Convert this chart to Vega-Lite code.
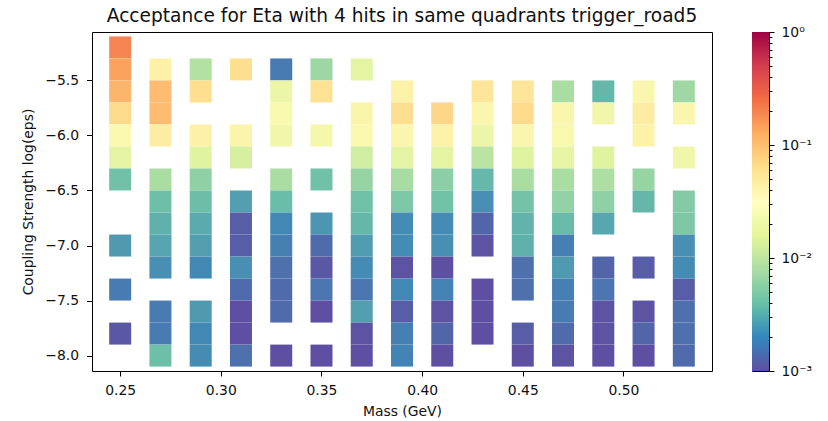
{
  "$schema": "https://vega.github.io/schema/vega-lite/v6.json",
  "autosize": {"type": "pad"},
  "padding": {"left": 21, "top": 6, "right": 5, "bottom": 5},
  "background": "white",
  "bounds": "flush",
  "spacing": 40,
  "config": {
    "font": "DejaVu Sans",
    "view": {"stroke": "#000", "strokeWidth": 1},
    "axis": {
      "grid": false,
      "domain": false,
      "tickColor": "#000",
      "tickWidth": 1,
      "labelFont": "DejaVu Sans",
      "labelFontSize": 13.9,
      "labelColor": "#111",
      "titleFont": "DejaVu Sans",
      "titleFontSize": 13.9,
      "titleFontWeight": "normal",
      "titleColor": "#111"
    }
  },
  "hconcat": [
    {
      "width": 620,
      "height": 339,
      "title": {
        "text": "Acceptance for Eta with 4 hits in same quadrants trigger_road5",
        "anchor": "middle",
        "frame": "group",
        "baseline": "alphabetic",
        "offset": -9,
        "font": "DejaVu Sans",
        "fontSize": 18.6,
        "fontWeight": "normal",
        "color": "#111"
      },
      "data": {
        "values": [
          {"mass": 0.25, "logeps": -5.2, "acc": 0.2},
          {"mass": 0.25, "logeps": -5.4, "acc": 0.14},
          {"mass": 0.25, "logeps": -5.6, "acc": 0.11},
          {"mass": 0.25, "logeps": -5.8, "acc": 0.065},
          {"mass": 0.25, "logeps": -6.0, "acc": 0.032},
          {"mass": 0.25, "logeps": -6.2, "acc": 0.018},
          {"mass": 0.25, "logeps": -6.4, "acc": 0.0043},
          {"mass": 0.25, "logeps": -7.0, "acc": 0.0025},
          {"mass": 0.25, "logeps": -7.4, "acc": 0.0017},
          {"mass": 0.25, "logeps": -7.8, "acc": 0.0011},

          {"mass": 0.27, "logeps": -5.4, "acc": 0.038},
          {"mass": 0.27, "logeps": -5.6, "acc": 0.1},
          {"mass": 0.27, "logeps": -5.8, "acc": 0.1},
          {"mass": 0.27, "logeps": -6.0, "acc": 0.042},
          {"mass": 0.27, "logeps": -6.4, "acc": 0.008},
          {"mass": 0.27, "logeps": -6.6, "acc": 0.0042},
          {"mass": 0.27, "logeps": -6.8, "acc": 0.0034},
          {"mass": 0.27, "logeps": -7.0, "acc": 0.0029},
          {"mass": 0.27, "logeps": -7.2, "acc": 0.0022},
          {"mass": 0.27, "logeps": -7.6, "acc": 0.0017},
          {"mass": 0.27, "logeps": -7.8, "acc": 0.0017},
          {"mass": 0.27, "logeps": -8.0, "acc": 0.0042},

          {"mass": 0.29, "logeps": -5.4, "acc": 0.009},
          {"mass": 0.29, "logeps": -5.6, "acc": 0.06},
          {"mass": 0.29, "logeps": -6.0, "acc": 0.038},
          {"mass": 0.29, "logeps": -6.2, "acc": 0.016},
          {"mass": 0.29, "logeps": -6.4, "acc": 0.006},
          {"mass": 0.29, "logeps": -6.6, "acc": 0.0041},
          {"mass": 0.29, "logeps": -6.8, "acc": 0.0031},
          {"mass": 0.29, "logeps": -7.0, "acc": 0.0027},
          {"mass": 0.29, "logeps": -7.2, "acc": 0.002},
          {"mass": 0.29, "logeps": -7.6, "acc": 0.0025},
          {"mass": 0.29, "logeps": -7.8, "acc": 0.002},
          {"mass": 0.29, "logeps": -8.0, "acc": 0.0021},

          {"mass": 0.31, "logeps": -5.4, "acc": 0.06},
          {"mass": 0.31, "logeps": -6.0, "acc": 0.035},
          {"mass": 0.31, "logeps": -6.2, "acc": 0.014},
          {"mass": 0.31, "logeps": -6.6, "acc": 0.0027},
          {"mass": 0.31, "logeps": -6.8, "acc": 0.0012},
          {"mass": 0.31, "logeps": -7.0, "acc": 0.0012},
          {"mass": 0.31, "logeps": -7.2, "acc": 0.0022},
          {"mass": 0.31, "logeps": -7.4, "acc": 0.0014},
          {"mass": 0.31, "logeps": -7.6, "acc": 0.001},
          {"mass": 0.31, "logeps": -7.8, "acc": 0.001},
          {"mass": 0.31, "logeps": -8.0, "acc": 0.0015},

          {"mass": 0.33, "logeps": -5.4, "acc": 0.0017},
          {"mass": 0.33, "logeps": -5.6, "acc": 0.022},
          {"mass": 0.33, "logeps": -5.8, "acc": 0.03},
          {"mass": 0.33, "logeps": -6.0, "acc": 0.025},
          {"mass": 0.33, "logeps": -6.4, "acc": 0.008},
          {"mass": 0.33, "logeps": -6.6, "acc": 0.004},
          {"mass": 0.33, "logeps": -6.8, "acc": 0.002},
          {"mass": 0.33, "logeps": -7.0, "acc": 0.0018},
          {"mass": 0.33, "logeps": -7.2, "acc": 0.0015},
          {"mass": 0.33, "logeps": -7.4, "acc": 0.0014},
          {"mass": 0.33, "logeps": -7.6, "acc": 0.0014},
          {"mass": 0.33, "logeps": -8.0, "acc": 0.001},

          {"mass": 0.35, "logeps": -5.4, "acc": 0.007},
          {"mass": 0.35, "logeps": -5.6, "acc": 0.055},
          {"mass": 0.35, "logeps": -6.0, "acc": 0.027},
          {"mass": 0.35, "logeps": -6.4, "acc": 0.0043},
          {"mass": 0.35, "logeps": -6.8, "acc": 0.0024},
          {"mass": 0.35, "logeps": -7.0, "acc": 0.0014},
          {"mass": 0.35, "logeps": -7.2, "acc": 0.0011},
          {"mass": 0.35, "logeps": -7.4, "acc": 0.0016},
          {"mass": 0.35, "logeps": -7.6, "acc": 0.001},
          {"mass": 0.35, "logeps": -8.0, "acc": 0.001},

          {"mass": 0.37, "logeps": -5.4, "acc": 0.017},
          {"mass": 0.37, "logeps": -5.8, "acc": 0.035},
          {"mass": 0.37, "logeps": -6.0, "acc": 0.032},
          {"mass": 0.37, "logeps": -6.2, "acc": 0.013},
          {"mass": 0.37, "logeps": -6.4, "acc": 0.0065},
          {"mass": 0.37, "logeps": -6.6, "acc": 0.0043},
          {"mass": 0.37, "logeps": -6.8, "acc": 0.0037},
          {"mass": 0.37, "logeps": -7.0, "acc": 0.0026},
          {"mass": 0.37, "logeps": -7.2, "acc": 0.0021},
          {"mass": 0.37, "logeps": -7.4, "acc": 0.0016},
          {"mass": 0.37, "logeps": -7.6, "acc": 0.0027},
          {"mass": 0.37, "logeps": -7.8, "acc": 0.00105},
          {"mass": 0.37, "logeps": -8.0, "acc": 0.001},

          {"mass": 0.39, "logeps": -5.6, "acc": 0.037},
          {"mass": 0.39, "logeps": -5.8, "acc": 0.06},
          {"mass": 0.39, "logeps": -6.0, "acc": 0.033},
          {"mass": 0.39, "logeps": -6.2, "acc": 0.018},
          {"mass": 0.39, "logeps": -6.4, "acc": 0.0078},
          {"mass": 0.39, "logeps": -6.6, "acc": 0.005},
          {"mass": 0.39, "logeps": -6.8, "acc": 0.0021},
          {"mass": 0.39, "logeps": -7.0, "acc": 0.0021},
          {"mass": 0.39, "logeps": -7.2, "acc": 0.00105},
          {"mass": 0.39, "logeps": -7.4, "acc": 0.002},
          {"mass": 0.39, "logeps": -7.6, "acc": 0.0012},
          {"mass": 0.39, "logeps": -7.8, "acc": 0.0018},
          {"mass": 0.39, "logeps": -8.0, "acc": 0.0019},

          {"mass": 0.41, "logeps": -5.8, "acc": 0.07},
          {"mass": 0.41, "logeps": -6.0, "acc": 0.036},
          {"mass": 0.41, "logeps": -6.2, "acc": 0.017},
          {"mass": 0.41, "logeps": -6.4, "acc": 0.0058},
          {"mass": 0.41, "logeps": -6.6, "acc": 0.0044},
          {"mass": 0.41, "logeps": -6.8, "acc": 0.0021},
          {"mass": 0.41, "logeps": -7.0, "acc": 0.0022},
          {"mass": 0.41, "logeps": -7.2, "acc": 0.001},
          {"mass": 0.41, "logeps": -7.4, "acc": 0.0019},
          {"mass": 0.41, "logeps": -7.6, "acc": 0.00105},
          {"mass": 0.41, "logeps": -7.8, "acc": 0.0013},
          {"mass": 0.41, "logeps": -8.0, "acc": 0.001},

          {"mass": 0.43, "logeps": -5.6, "acc": 0.05},
          {"mass": 0.43, "logeps": -5.8, "acc": 0.033},
          {"mass": 0.43, "logeps": -6.0, "acc": 0.022},
          {"mass": 0.43, "logeps": -6.2, "acc": 0.01},
          {"mass": 0.43, "logeps": -6.4, "acc": 0.0038},
          {"mass": 0.43, "logeps": -6.6, "acc": 0.0022},
          {"mass": 0.43, "logeps": -6.8, "acc": 0.0013},
          {"mass": 0.43, "logeps": -7.0, "acc": 0.00105},
          {"mass": 0.43, "logeps": -7.4, "acc": 0.001},
          {"mass": 0.43, "logeps": -7.6, "acc": 0.001},
          {"mass": 0.43, "logeps": -7.8, "acc": 0.001},

          {"mass": 0.45, "logeps": -5.6, "acc": 0.05},
          {"mass": 0.45, "logeps": -5.8, "acc": 0.065},
          {"mass": 0.45, "logeps": -6.0, "acc": 0.033},
          {"mass": 0.45, "logeps": -6.2, "acc": 0.016},
          {"mass": 0.45, "logeps": -6.4, "acc": 0.008},
          {"mass": 0.45, "logeps": -6.6, "acc": 0.0045},
          {"mass": 0.45, "logeps": -6.8, "acc": 0.0035},
          {"mass": 0.45, "logeps": -7.0, "acc": 0.0034},
          {"mass": 0.45, "logeps": -7.2, "acc": 0.0015},
          {"mass": 0.45, "logeps": -7.4, "acc": 0.0015},
          {"mass": 0.45, "logeps": -7.8, "acc": 0.0012},
          {"mass": 0.45, "logeps": -8.0, "acc": 0.001},

          {"mass": 0.47, "logeps": -5.6, "acc": 0.008},
          {"mass": 0.47, "logeps": -5.8, "acc": 0.033},
          {"mass": 0.47, "logeps": -6.0, "acc": 0.03},
          {"mass": 0.47, "logeps": -6.2, "acc": 0.02},
          {"mass": 0.47, "logeps": -6.4, "acc": 0.008},
          {"mass": 0.47, "logeps": -6.6, "acc": 0.0062},
          {"mass": 0.47, "logeps": -6.8, "acc": 0.0039},
          {"mass": 0.47, "logeps": -7.0, "acc": 0.0018},
          {"mass": 0.47, "logeps": -7.2, "acc": 0.0025},
          {"mass": 0.47, "logeps": -7.4, "acc": 0.0018},
          {"mass": 0.47, "logeps": -7.6, "acc": 0.0017},
          {"mass": 0.47, "logeps": -7.8, "acc": 0.0014},
          {"mass": 0.47, "logeps": -8.0, "acc": 0.00105},

          {"mass": 0.49, "logeps": -5.6, "acc": 0.0037},
          {"mass": 0.49, "logeps": -5.8, "acc": 0.025},
          {"mass": 0.49, "logeps": -6.2, "acc": 0.016},
          {"mass": 0.49, "logeps": -6.4, "acc": 0.0085},
          {"mass": 0.49, "logeps": -6.6, "acc": 0.006},
          {"mass": 0.49, "logeps": -6.8, "acc": 0.003},
          {"mass": 0.49, "logeps": -7.2, "acc": 0.0013},
          {"mass": 0.49, "logeps": -7.4, "acc": 0.0016},
          {"mass": 0.49, "logeps": -7.6, "acc": 0.00105},
          {"mass": 0.49, "logeps": -7.8, "acc": 0.00105},
          {"mass": 0.49, "logeps": -8.0, "acc": 0.001},

          {"mass": 0.51, "logeps": -5.6, "acc": 0.033},
          {"mass": 0.51, "logeps": -5.8, "acc": 0.042},
          {"mass": 0.51, "logeps": -6.0, "acc": 0.036},
          {"mass": 0.51, "logeps": -6.4, "acc": 0.0065},
          {"mass": 0.51, "logeps": -6.6, "acc": 0.0037},
          {"mass": 0.51, "logeps": -7.2, "acc": 0.0012},
          {"mass": 0.51, "logeps": -7.6, "acc": 0.00105},
          {"mass": 0.51, "logeps": -7.8, "acc": 0.0013},
          {"mass": 0.51, "logeps": -8.0, "acc": 0.001},

          {"mass": 0.53, "logeps": -5.6, "acc": 0.0072},
          {"mass": 0.53, "logeps": -5.8, "acc": 0.033},
          {"mass": 0.53, "logeps": -6.2, "acc": 0.024},
          {"mass": 0.53, "logeps": -6.6, "acc": 0.0053},
          {"mass": 0.53, "logeps": -6.8, "acc": 0.005},
          {"mass": 0.53, "logeps": -7.0, "acc": 0.0022},
          {"mass": 0.53, "logeps": -7.2, "acc": 0.0021},
          {"mass": 0.53, "logeps": -7.4, "acc": 0.0012},
          {"mass": 0.53, "logeps": -7.6, "acc": 0.0015},
          {"mass": 0.53, "logeps": -7.8, "acc": 0.0015},
          {"mass": 0.53, "logeps": -8.0, "acc": 0.0014}
        ]
      },
      "mark": {"type": "square", "size": 484, "opacity": 1, "filled": true},
      "encoding": {
        "x": {
          "field": "mass",
          "type": "quantitative",
          "title": "Mass (GeV)",
          "scale": {"domain": [0.236, 0.544], "nice": false, "zero": false},
          "axis": {
            "values": [0.25, 0.3, 0.35, 0.4, 0.45, 0.5],
            "format": ".2f",
            "tickSize": 5,
            "labelPadding": 7,
            "titlePadding": 8
          }
        },
        "y": {
          "field": "logeps",
          "type": "quantitative",
          "title": "Coupling Strength log(eps)",
          "scale": {"domain": [-8.14, -5.06], "nice": false, "zero": false},
          "axis": {
            "values": [-8.0, -7.5, -7.0, -6.5, -6.0, -5.5],
            "labelExpr": "replace(format(datum.value, '.1f'), '-', '\u2212')",
            "tickSize": 5.5,
            "labelPadding": 8,
            "titlePadding": 9
          }
        },
        "color": {
          "field": "acc",
          "type": "quantitative",
          "scale": {
            "type": "log",
            "domain": [0.001, 1],
            "scheme": "spectral",
            "reverse": true,
            "clamp": true
          },
          "legend": null
        }
      }
    },
    {
      "width": 17,
      "height": 339,
      "data": {"values": [{"lo": 0.001, "hi": 1}]},
      "mark": {
        "type": "rect",
        "fill": {
          "gradient": "linear",
          "x1": 0, "y1": 1, "x2": 0, "y2": 0,
          "stops": [
            {"offset": 0.0, "color": "#5e4fa2"},
            {"offset": 0.1, "color": "#3288bd"},
            {"offset": 0.2, "color": "#66c2a5"},
            {"offset": 0.3, "color": "#abdda4"},
            {"offset": 0.4, "color": "#e6f598"},
            {"offset": 0.5, "color": "#ffffbf"},
            {"offset": 0.6, "color": "#fee08b"},
            {"offset": 0.7, "color": "#fdae61"},
            {"offset": 0.8, "color": "#f46d43"},
            {"offset": 0.9, "color": "#d53e4f"},
            {"offset": 1.0, "color": "#9e0142"}
          ]
        }
      },
      "encoding": {
        "y": {
          "field": "lo",
          "type": "quantitative",
          "title": null,
          "scale": {"type": "log", "domain": [0.001, 1], "nice": false},
          "axis": {
            "orient": "right",
            "values": [0.001, 0.002, 0.003, 0.004, 0.005, 0.006, 0.007, 0.008, 0.009,
                       0.01, 0.02, 0.03, 0.04, 0.05, 0.06, 0.07, 0.08, 0.09,
                       0.1, 0.2, 0.3, 0.4, 0.5, 0.6, 0.7, 0.8, 0.9, 1],
            "labelExpr": "abs(log(datum.value) / LN10 - round(log(datum.value) / LN10)) < 1e-6 ? ['10\u207b\u00b3', '10\u207b\u00b2', '10\u207b\u00b9', '10\u2070'][round(log(datum.value) / LN10) + 3] : ''",
            "tickSize": {
              "condition": {"test": "abs(log(datum.value) / LN10 - round(log(datum.value) / LN10)) < 1e-6", "value": 5},
              "value": 3
            },
            "labelPadding": 7,
            "labelOverlap": false,
            "labelBound": false
          }
        },
        "y2": {"field": "hi"}
      }
    }
  ]
}
